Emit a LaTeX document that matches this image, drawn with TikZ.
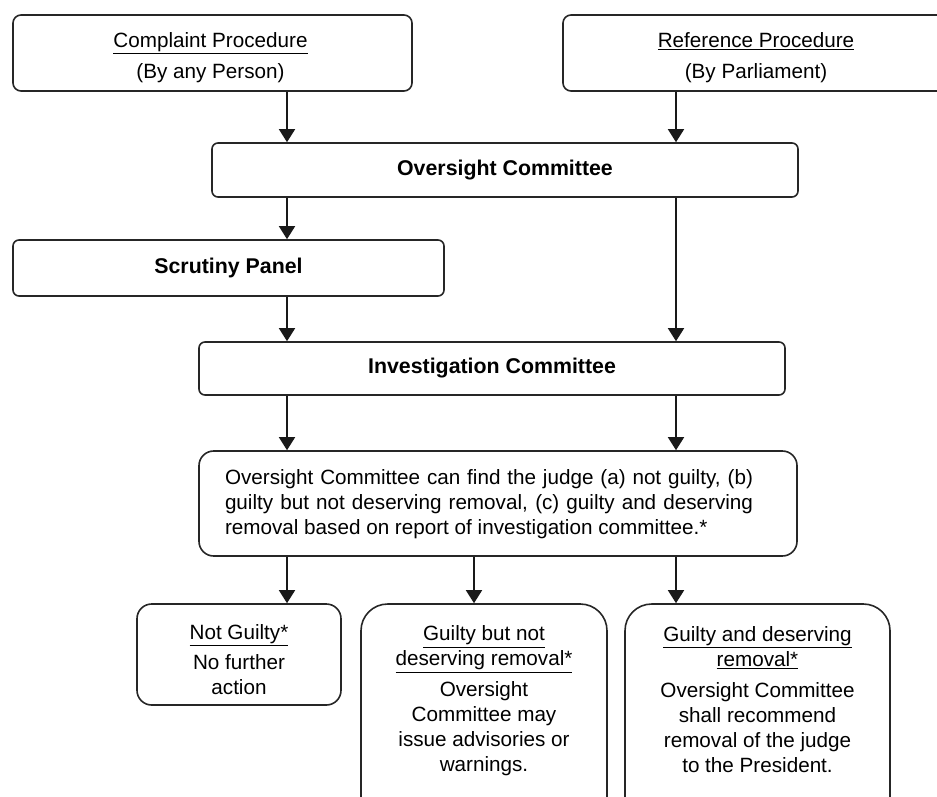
\documentclass[tikz,border=0pt]{standalone}
\usepackage{fontspec}
\setmainfont{Liberation Sans}
\usetikzlibrary{arrows.meta}
\setlength{\parindent}{0pt}
\begin{document}
\begin{tikzpicture}[x=0.75pt,y=-0.75pt,
  box/.style={draw=black!85, line width=1.2pt, inner sep=0pt},
  arr/.style={draw=black!90, line width=1.2pt, -{Triangle[width=12pt,length=9.75pt]}},
  txt/.style={inner sep=0pt, align=center, text=black, font=\fontsize{15.5pt}{18.75pt}\selectfont},
  ttl/.style={box, align=center, text=black, font=\fontsize{16pt}{19pt}\selectfont\bfseries}]
\path[use as bounding box] (0,0) rectangle (937,796);
\clip (0,0) rectangle (937,796);

% boxes
\node[box, rounded corners=6pt, minimum width=299.25pt, minimum height=57pt] (comp) at (212.5,53) {};
\node[box, rounded corners=6pt, minimum width=289.5pt, minimum height=57pt] (ref) at (756,53) {};
\node[ttl, rounded corners=4.5pt, minimum width=439.5pt, minimum height=40.5pt] (over) at (505,170) {Oversight Committee};
\node[ttl, rounded corners=4.5pt, minimum width=323.25pt, minimum height=42pt] (scr) at (228.5,268) {Scrutiny Panel};
\node[ttl, rounded corners=4.5pt, minimum width=439.5pt, minimum height=39.75pt] (inv) at (492,368.5) {Investigation Committee};
\node[box, rounded corners=11pt, minimum width=448.5pt, minimum height=78.75pt] (find) at (498,503.5) {};
\node[box, rounded corners=11pt, minimum width=153pt, minimum height=75.75pt] (ng) at (239,654.5) {};
\node[box, rounded corners=20pt, minimum width=184.5pt, minimum height=169.5pt] (gn) at (484,717) {};
\node[box, rounded corners=20pt, minimum width=198.75pt, minimum height=169.5pt] (gd) at (757.5,717) {};

% texts
\node[txt] (compT) at (210.5,57.5) {\underline{Complaint Procedure}\\[4.5pt](By any Person)};
\node[txt] (refT) at (756,57.5) {\underline{Reference Procedure}\\[4.5pt](By Parliament)};
\node[txt, align=justify, text width=396pt] (findT) at (489,504) {Oversight Committee can find the judge (a) not guilty, (b)\linebreak guilty but not deserving removal, (c) guilty and deserving\linebreak removal based on report of investigation committee.*};
\node[txt] (ngT) at (239,659.5) {\underline{Not Guilty*}\\[3.75pt]No further\\action};
\node[txt] (gnT) at (484,701) {\underline{Guilty but not}\\\underline{deserving removal*}\\[4.5pt]Oversight\\Committee may\\issue advisories or\\warnings.};
\node[txt] (gdT) at (757.5,699.5) {\underline{Guilty and deserving}\\\underline{removal*}\\[4.5pt]Oversight Committee\\shall recommend\\removal of the judge\\to the President.};

% columns
\coordinate (colL) at (287,0);
\coordinate (colM) at (474,0);
\coordinate (colR) at (676,0);

% connectors
\draw[arr] (colL |- comp.south) -- (colL |- over.north);
\draw[arr] (colR |- ref.south) -- (colR |- over.north);
\draw[arr] (colL |- over.south) -- (colL |- scr.north);
\draw[arr] (colL |- scr.south) -- (colL |- inv.north);
\draw[arr] (colR |- over.south) -- (colR |- inv.north);
\draw[arr] (colL |- inv.south) -- (colL |- find.north);
\draw[arr] (colR |- inv.south) -- (colR |- find.north);
\draw[arr] (colL |- find.south) -- (colL |- ng.north);
\draw[arr] (colM |- find.south) -- (colM |- gn.north);
\draw[arr] (colR |- find.south) -- (colR |- gd.north);
\end{tikzpicture}
\end{document}
